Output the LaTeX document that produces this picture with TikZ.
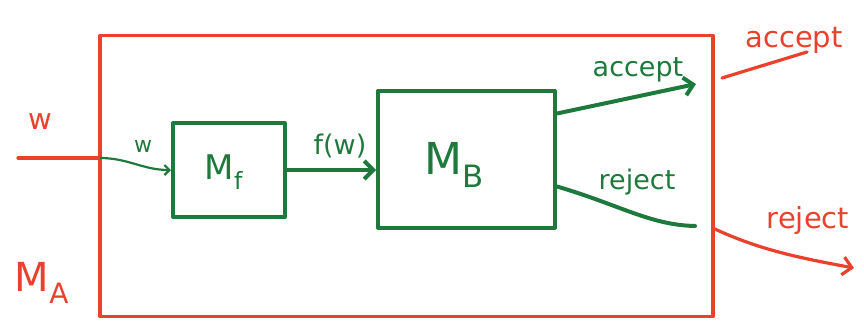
\documentclass[tikz,border=0pt]{standalone}
\usepackage{fontspec}
\setmainfont{DejaVu Sans}
\usetikzlibrary{arrows.meta,calc}
\definecolor{hred}{HTML}{E8412C}
\definecolor{hgreen}{HTML}{1E7A3C}
\tikzset{
  redline/.style={draw=hred, line width=3.2pt, line cap=round, line join=round},
  greenline/.style={draw=hgreen, line width=4pt, line cap=round, line join=round},
  redtext/.style={text=hred, font=\fontsize{29}{29}\selectfont},
  greentext/.style={text=hgreen, font=\fontsize{27}{27}\selectfont},
  barb/.style={-{Straight Barb[length=9pt,width=18pt]}},
}
\begin{document}
\begin{tikzpicture}[x=1pt,y=-1pt]
\useasboundingbox (0,0) rectangle (864,332);
% outer machine M_A
\node[redline, minimum width=613pt, minimum height=281pt, inner sep=0pt] (MA) at (406.5,176) {};
\node[redtext, font=\fontsize{40}{40}\selectfont] (MAl) at (42,283) {M\textsubscript{A}};
% inner boxes
\node[greenline, minimum width=112pt, minimum height=94pt, inner sep=0pt] (Mf) at (229,170) {};
\node[greentext, font=\fontsize{34}{34}\selectfont] at ($(Mf.center)+(-5,2)$) {M\textsubscript{f}};
\node[greenline, minimum width=177pt, minimum height=137pt, inner sep=0pt] (MB) at (466.5,159) {};
\node[greentext, font=\fontsize{44}{44}\selectfont] at ($(MB.center)+(-12,6)$) {M\textsubscript{B}};
% input
\coordinate (inL) at (18,158);
\coordinate (inA) at (100,158);
\draw[redline] (inL) -- (inA);
\node[redtext] (wred) at (40,122) {w};
\draw[draw=hgreen, line width=2.2pt, -{Straight Barb[length=5pt,width=10pt]}] (inA) to[out=0,in=180] (Mf.west);
\node[greentext, font=\fontsize{22}{22}\selectfont] (wgreen) at (143,146) {w};
% f(w)
\draw[greenline, barb] (Mf.east) -- (Mf.east -| MB.west);
\node[greentext] (fw) at (340,146) {f(w)};
% accept / reject of M_B
\coordinate (accB) at ($(MB.north east)+(0,25)$);
\coordinate (accE) at (696,84);
\draw[greenline, barb] (accB) -- (accE);
\node[greentext] (acct) at (638,70) {accept};
\coordinate (rejB) at ($(MB.north east)+(0,98)$);
\coordinate (rejE) at (695,226);
\draw[greenline] (rejB) .. controls (620,205) and (650,225) .. (rejE);
\node[greentext] (rejt) at (637,182) {reject};
% outputs of M_A
\coordinate (accA) at (722,78);
\coordinate (accO) at (807,52);
\draw[redline] (accA) -- (accO);
\node[redtext] (accrt) at (794,40) {accept};
\coordinate (rejA) at ($(MA.north east)+(0,195)$);
\coordinate (rejO) at (854,268);
\draw[redline, barb] (rejA) .. controls (760,250) and (800,258) .. (rejO);
\node[redtext] (rejrt) at (808,220) {reject};
\end{tikzpicture}
\end{document}
